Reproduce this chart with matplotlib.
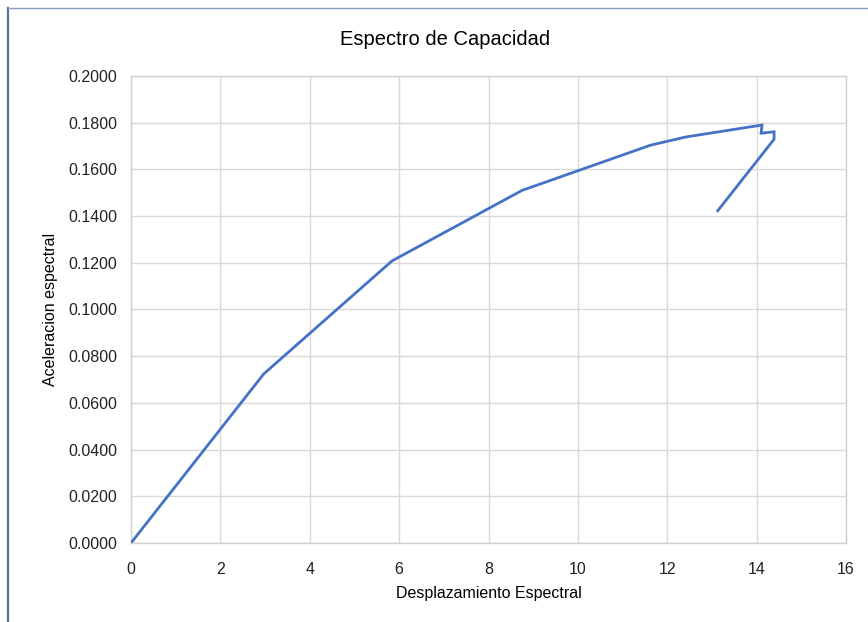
import numpy as np
import matplotlib.pyplot as plt
from matplotlib.lines import Line2D

plt.rcParams['font.family'] = ['Liberation Sans', 'DejaVu Sans']

# capacity spectrum points
desplazamiento = [0.0, 2.97, 5.84, 8.75, 11.63, 12.42, 14.12, 14.10, 14.39, 14.39, 13.13]
aceleracion = [0.0, 0.0724, 0.1208, 0.1510, 0.1704, 0.1739, 0.1790, 0.1755, 0.1761, 0.1729, 0.1423]

xticks = np.arange(0, 17, 2)
yticks = np.arange(0, 0.2001, 0.02)

fig = plt.figure(figsize=(8.68, 6.22), dpi=100)
ax = fig.add_axes([131 / 868, 79 / 622, 715 / 868, 467 / 622])

ax.plot(desplazamiento, aceleracion, color="#4472C4", linewidth=2.0,
        solid_joinstyle='miter', zorder=3)

ax.set_xlim(0, 16)
ax.set_ylim(0, 0.2)
ax.set_xticks(xticks, [str(v) for v in xticks])
ax.set_yticks(yticks, ["%.4f" % v for v in yticks])
ax.grid(True, color="#d9d9d9", linewidth=1.0)
ax.set_axisbelow(True)
for s in ax.spines.values():
    s.set_color("#d0d0d0")
    s.set_linewidth(1.0)
ax.tick_params(axis='both', length=0, labelsize=11.5, colors="#222222")
ax.tick_params(axis='x', pad=14)
ax.tick_params(axis='y', pad=10)

ax.set_xlabel("Desplazamiento Espectral", fontsize=11.5, labelpad=6)
ax.set_ylabel("Aceleracion espectral", fontsize=11.5, labelpad=7)
fig.text(0.513, 0.936, "Espectro de Capacidad", ha='center', va='center', fontsize=14.5)

# chart frame edges visible at the top and left of the screenshot
fig.add_artist(Line2D([8 / 868, 8 / 868], [0, 1 - 8 / 622], transform=fig.transFigure,
                      color="#5a6e9c", linewidth=1.6))
fig.add_artist(Line2D([8 / 868, 1], [1 - 8 / 622, 1 - 8 / 622], transform=fig.transFigure,
                      color="#8a9cc0", linewidth=1.0))

fig.savefig("out.png", dpi=100)
